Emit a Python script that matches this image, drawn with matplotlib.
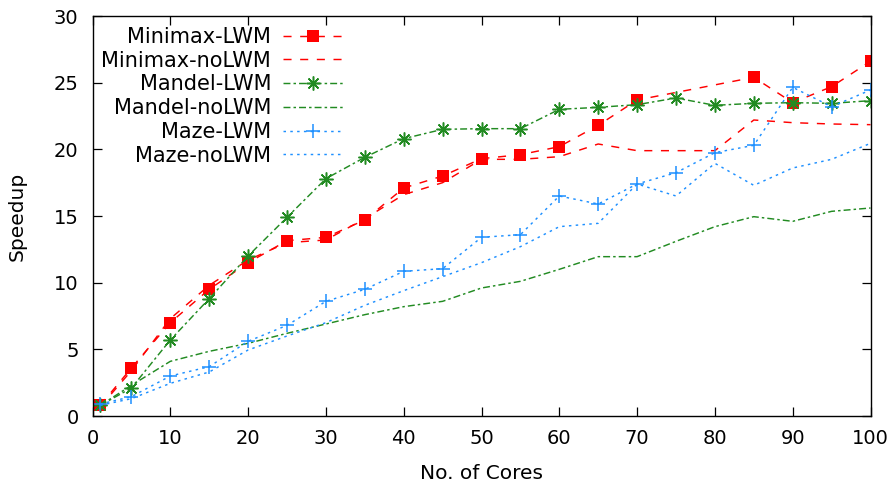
import matplotlib
matplotlib.use("Agg")
import matplotlib.pyplot as plt

plt.rcParams['font.family'] = ['DejaVu Sans']
plt.rcParams['lines.scale_dashes'] = False

cores = [1, 5, 10, 15, 20, 25, 30, 35, 40, 45, 50, 55, 60, 65, 70, 75, 80, 85, 90, 95, 100]
cores_minimax_lwm = [1, 5, 10, 15, 20, 25, 30, 35, 40, 45, 50, 55, 60, 65, 70, 85, 90, 95, 100]

minimax_lwm = [0.8, 3.6, 7.0, 9.5, 11.5, 13.15, 13.4, 14.7, 17.1, 18.0, 19.3, 19.6, 20.2, 21.8, 23.7, 25.4, 23.5, 24.7, 26.6]
minimax_nolwm = [0.7, 3.4, 7.3, 9.8, 11.7, 13.0, 13.2, 14.8, 16.6, 17.5, 19.25, 19.25, 19.45, 20.4, 19.9, 19.9, 19.9, 22.2, 22.0, 21.9, 21.85]
mandel_lwm = [0.8, 2.1, 5.7, 8.8, 12.0, 14.9, 17.8, 19.4, 20.8, 21.5, 21.55, 21.55, 23.0, 23.15, 23.35, 23.85, 23.3, 23.45, 23.5, 23.45, 23.65]
mandel_nolwm = [0.8, 2.3, 4.1, 4.85, 5.45, 6.2, 6.9, 7.6, 8.2, 8.6, 9.6, 10.1, 11.0, 11.95, 11.95, 13.1, 14.2, 14.95, 14.6, 15.35, 15.6]
maze_lwm = [0.9, 1.45, 3.0, 3.7, 5.6, 6.8, 8.6, 9.5, 10.85, 11.05, 13.4, 13.6, 16.5, 15.9, 17.4, 18.25, 19.75, 20.3, 24.65, 23.2, 24.45]
maze_nolwm = [0.8, 1.3, 2.45, 3.3, 4.95, 6.0, 7.0, 8.3, 9.4, 10.45, 11.5, 12.7, 14.2, 14.45, 17.4, 16.5, 18.95, 17.3, 18.6, 19.25, 20.45]

labels = ["Minimax-LWM", "Minimax-noLWM", "Mandel-LWM", "Mandel-noLWM", "Maze-LWM", "Maze-noLWM"]
xticks = [0, 10, 20, 30, 40, 50, 60, 70, 80, 90, 100]
yticks = [0, 5, 10, 15, 20, 25, 30]

RED = "#ff0000"
GREEN = "#228b22"
BLUE = "#1e90ff"

fig = plt.figure(figsize=(8.93, 4.83), dpi=100)
ax = fig.add_axes([92.5/893, 1 - 416/483, (870.5 - 92.5)/893, (416 - 16)/483])

lw = 1.05
red_dash = (0, (5.8, 6.2))
green_dd = (0, (5.0, 2.2, 1.8, 2.2))
blue_dot = (0, (1.8, 3.1))

ax.plot(cores_minimax_lwm, minimax_lwm, color=RED, lw=lw, linestyle=red_dash,
        marker='s', markersize=8.5, markeredgewidth=0, label=labels[0])
ax.plot(cores, minimax_nolwm, color=RED, lw=lw, linestyle=red_dash, label=labels[1])
ax.plot(cores, mandel_lwm, color=GREEN, lw=lw, linestyle=green_dd,
        marker=(8, 2, 0), markersize=10, markeredgewidth=1.1, label=labels[2])
ax.plot(cores, mandel_nolwm, color=GREEN, lw=lw, linestyle=green_dd, label=labels[3])
ax.plot(cores, maze_lwm, color=BLUE, lw=lw, linestyle=blue_dot,
        marker='+', markersize=10, markeredgewidth=1.1, label=labels[4])
ax.plot(cores, maze_nolwm, color=BLUE, lw=lw, linestyle=blue_dot, label=labels[5])

ax.set_xlim(0, 100)
ax.set_ylim(0, 30)
ax.set_xticks(xticks)
ax.set_yticks(yticks)
ax.tick_params(direction='in', length=6.5, width=0.9, top=True, right=True,
               labelsize=14, colors='black')
ax.tick_params(axis='x', pad=9)
ax.tick_params(axis='y', pad=10)
for s in ax.spines.values():
    s.set_linewidth(1.0)

ax.set_xlabel("No. of Cores", fontsize=14.5, labelpad=12)
ax.set_ylabel("Speedup", fontsize=14.5, labelpad=19.5)

leg = ax.legend(loc='upper right', bbox_to_anchor=(343/893, 1 - 27/483),
                bbox_transform=fig.transFigure, frameon=False, markerfirst=False,
                fontsize=15, handlelength=2.9, handletextpad=0.55,
                labelspacing=0.18, borderpad=0, borderaxespad=0)

fig.savefig("out.png", dpi=100)
